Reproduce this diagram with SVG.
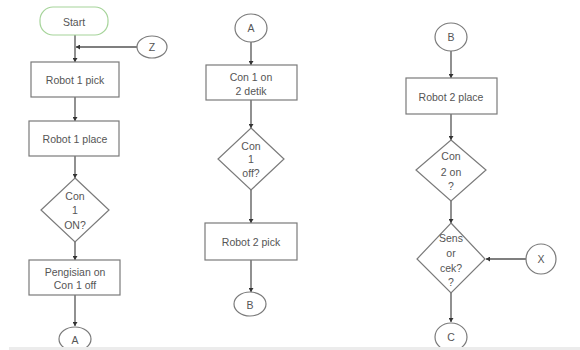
<svg xmlns="http://www.w3.org/2000/svg" width="580" height="350" viewBox="0 0 580 350">
<style>
.box{fill:#fff;stroke:#7a7a7a;stroke-width:1.2}
.term{fill:#fff;stroke:#a6d49a;stroke-width:1.2}
.t{font-family:"Liberation Sans",Arial,sans-serif;font-size:10.5px;fill:#555;text-anchor:middle;dominant-baseline:central}
.c{fill:none;stroke:#555;stroke-width:1.3;marker-end:url(#ah)}
</style>
<defs>
<marker id="ah" markerWidth="5" markerHeight="5" refX="4" refY="2.5" orient="auto" markerUnits="userSpaceOnUse">
<path d="M0,0 L4,2.5 L0,5 Z" fill="#333"/>
</marker>
</defs>
<rect x="9" y="347" width="571" height="3" fill="#ececec"/>
<g id="connectors">
<path class="c" d="M75,35 V62"/>
<path class="c" d="M137,47 H76"/>
<path class="c" d="M75,97 V121"/>
<path class="c" d="M75,156 V178"/>
<path class="c" d="M75,242 V260"/>
<path class="c" d="M75,295 V326"/>
<path class="c" d="M251,42 V65"/>
<path class="c" d="M251,100 V128"/>
<path class="c" d="M251,190 V223"/>
<path class="c" d="M251,260 V292"/>
<path class="c" d="M451,51 V78"/>
<path class="c" d="M451,114 V140"/>
<path class="c" d="M451,201 V223"/>
<path class="c" d="M526,259 H486"/>
<path class="c" d="M451,293 V322"/>
</g>
<g id="start"><rect class="term" x="40" y="7" width="68" height="28" rx="13"/><text class="t" x="74" y="22">Start</text></g>
<g id="z"><ellipse class="box" cx="152" cy="47" rx="15" ry="11"/><text class="t" x="152" y="47">Z</text></g>
<g id="r1pick"><rect class="box" x="31" y="62" width="88" height="35"/><text class="t" x="75" y="80">Robot 1 pick</text></g>
<g id="r1place"><rect class="box" x="29" y="121" width="90" height="35"/><text class="t" x="75" y="139">Robot 1 place</text></g>
<g id="con1on"><path class="box" d="M75,178 L109,210 L75,242 L41,210 Z"/><text class="t" x="75" y="196">Con</text><text class="t" x="75" y="210">1</text><text class="t" x="75" y="225">ON?</text></g>
<g id="pengisian"><rect class="box" x="29" y="260" width="91" height="35"/><text class="t" x="75" y="272">Pengisian on</text><text class="t" x="75" y="285">Con 1 off</text></g>
<g id="a1"><ellipse class="box" cx="75" cy="339" rx="16" ry="12"/><text class="t" x="75" y="340">A</text></g>
<g id="a2"><ellipse class="box" cx="251" cy="28" rx="16" ry="14"/><text class="t" x="251" y="28">A</text></g>
<g id="con1on2"><rect class="box" x="206" y="65" width="91" height="35"/><text class="t" x="251" y="77">Con 1 on</text><text class="t" x="251" y="91">2 detik</text></g>
<g id="con1off"><path class="box" d="M251,128 L284,159 L251,190 L218,159 Z"/><text class="t" x="251" y="146">Con</text><text class="t" x="251" y="159">1</text><text class="t" x="251" y="173">off?</text></g>
<g id="r2pick"><rect class="box" x="205" y="223" width="92" height="37"/><text class="t" x="251" y="242">Robot 2 pick</text></g>
<g id="b1"><ellipse class="box" cx="250" cy="304" rx="16" ry="12"/><text class="t" x="250" y="305">B</text></g>
<g id="b2"><ellipse class="box" cx="451" cy="37" rx="16" ry="14"/><text class="t" x="451" y="37">B</text></g>
<g id="r2place"><rect class="box" x="406" y="78" width="91" height="36"/><text class="t" x="451" y="97">Robot 2 place</text></g>
<g id="con2on"><path class="box" d="M451,140 L486,170 L451,201 L416,170 Z"/><text class="t" x="451" y="156">Con</text><text class="t" x="451" y="172">2 on</text><text class="t" x="451" y="186">?</text></g>
<g id="sens"><path class="box" d="M451,223 L485,259 L451,293 L417,259 Z"/><text class="t" x="451" y="238">Sens</text><text class="t" x="451" y="253">or</text><text class="t" x="451" y="268">cek?</text><text class="t" x="451" y="282">?</text></g>
<g id="x"><ellipse class="box" cx="541" cy="259" rx="15" ry="15"/><text class="t" x="541" y="259">X</text></g>
<g id="c"><ellipse class="box" cx="451" cy="337" rx="16" ry="14"/><text class="t" x="451" y="337">C</text></g>
<rect x="9" y="347" width="571" height="3" fill="#ececec"/>
</svg>
